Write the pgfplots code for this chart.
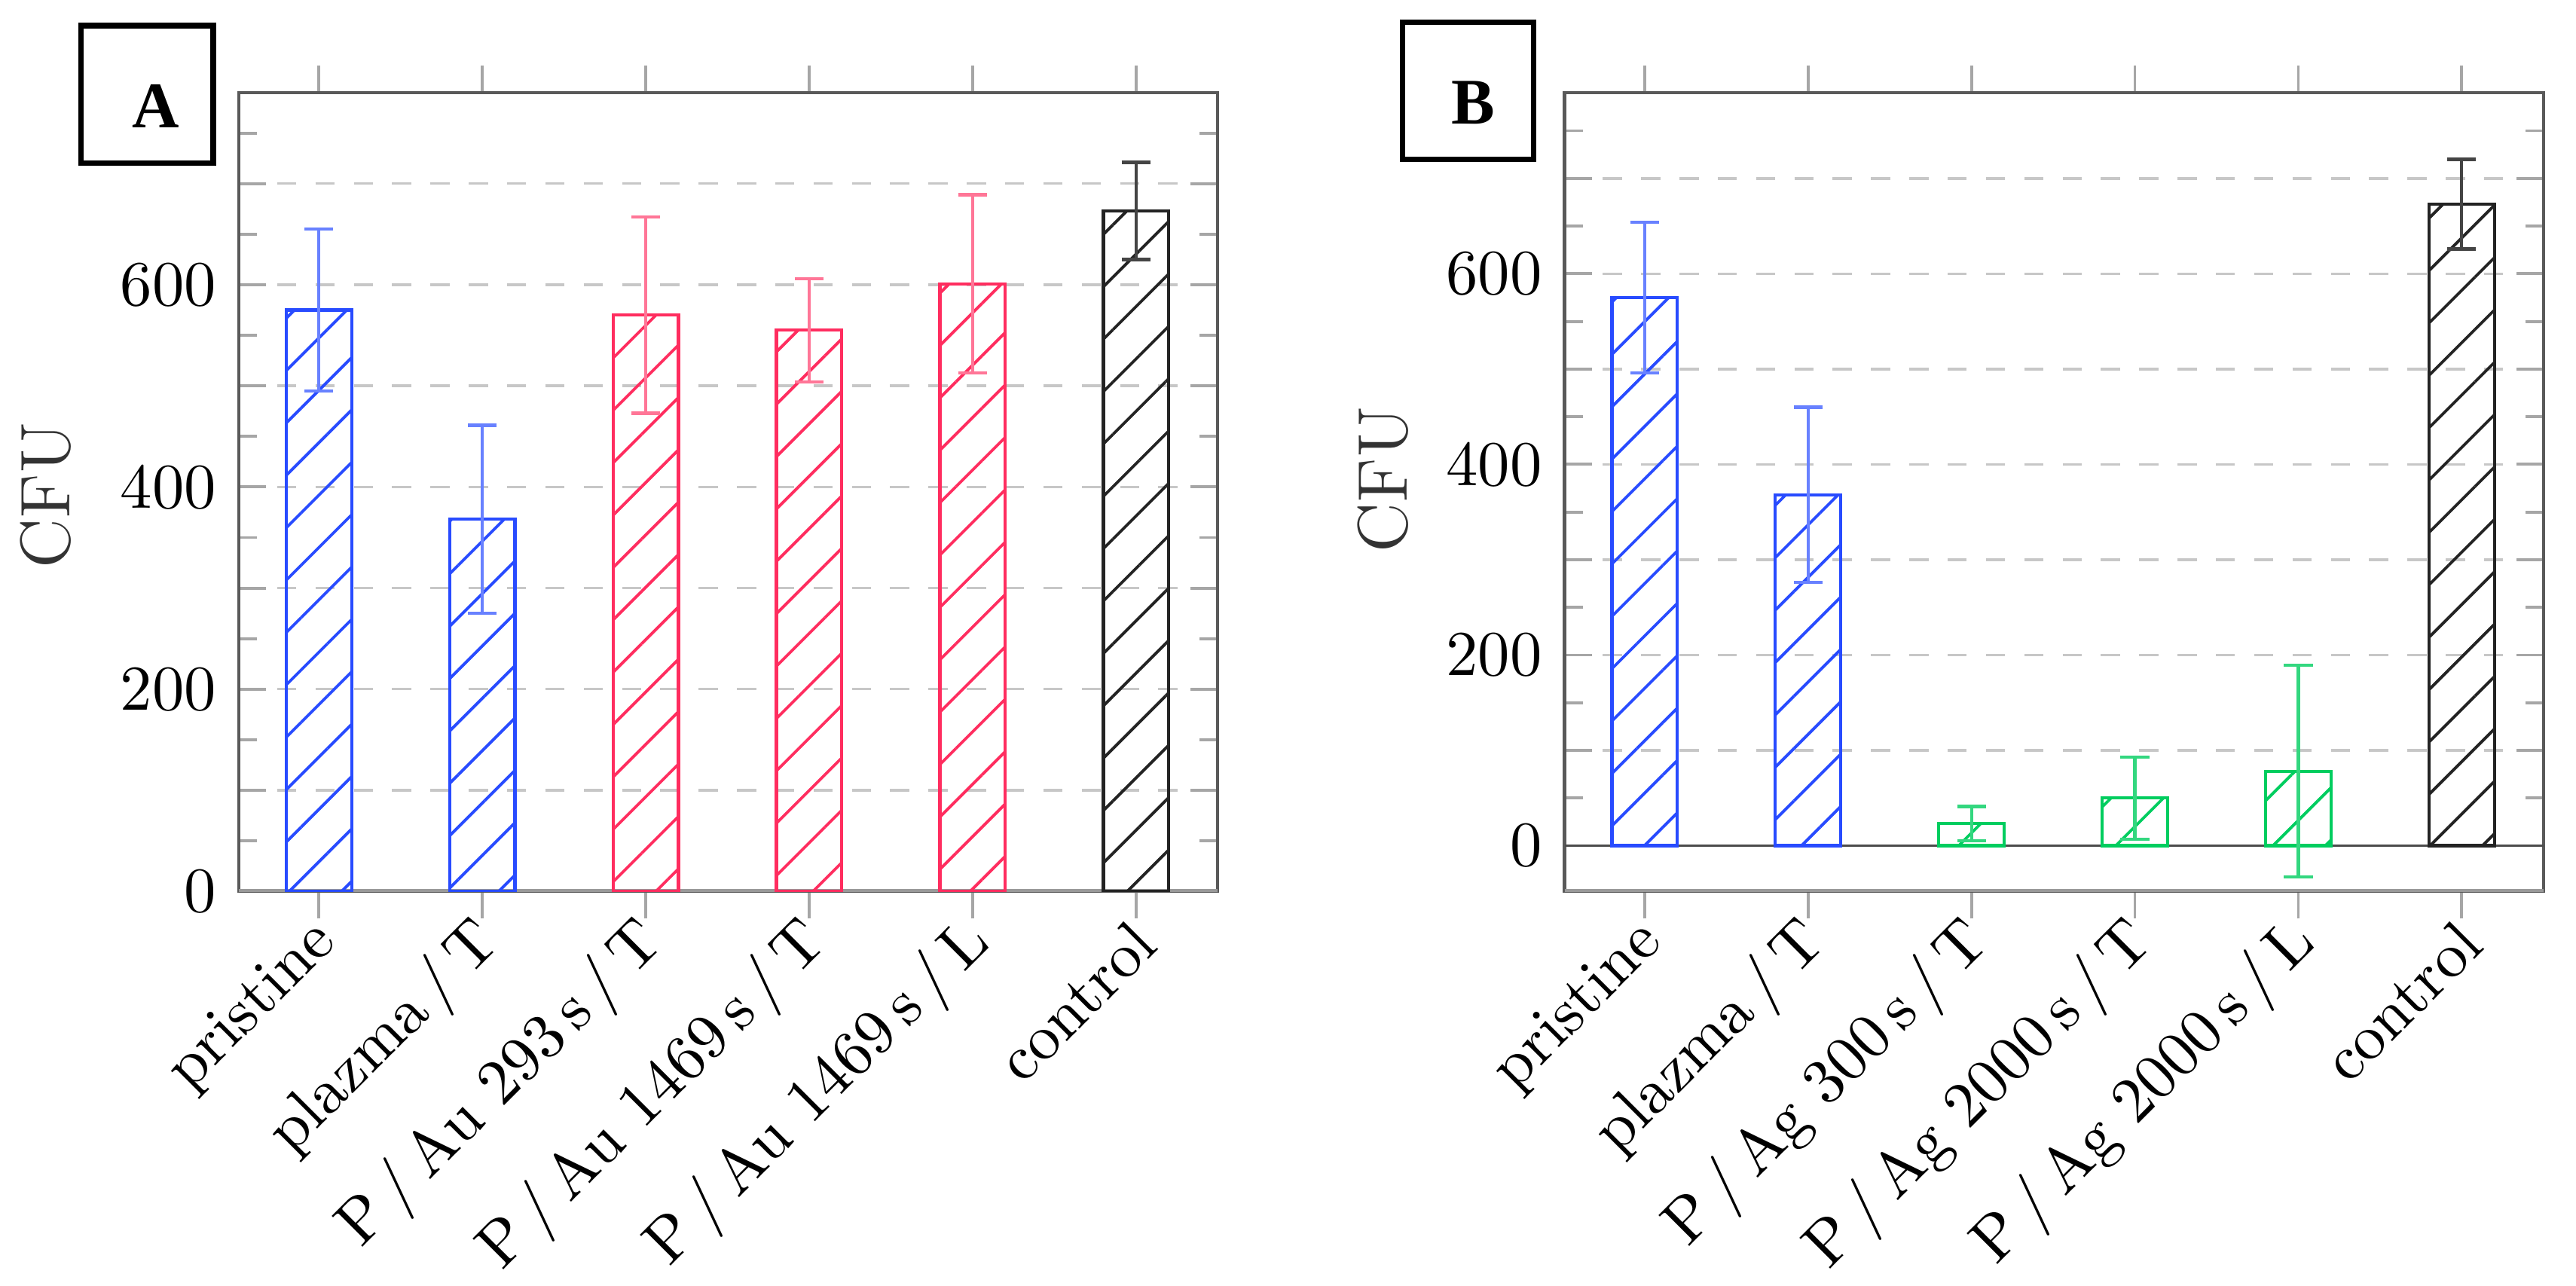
\documentclass[border=0pt]{standalone}
\usepackage{fontspec}
\usepackage{pgfplots}
\pgfplotsset{compat=1.18}
\usetikzlibrary{patterns.meta}
\newfontfamily\boxfont{Liberation Serif}

\definecolor{cblue}{RGB}{40,75,255}
\definecolor{cred}{RGB}{255,45,95}
\definecolor{cgreen}{RGB}{0,205,95}
\definecolor{cblack}{RGB}{35,35,35}

\pgfplotsset{
  cfu/.style={
    width=153.3pt, height=125.1pt, scale only axis,
    ymax=790,
    xmin=-0.49, xmax=5.5,
    xtick={0,...,5},
    ytick={0,100,...,700},
    yticklabels={0,,200,,400,,600,},
    minor ytick={50,150,...,750},
    ymajorgrids,
    major grid style={dashed, black!22, line width=0.4pt},
    tick style={black!35, line width=0.45pt},
    axis line style={black!65, line width=0.5pt},
    ylabel={CFU},
    ylabel style={font=\fontsize{11}{13}\selectfont, color=black!80, anchor=center},
    xticklabel style={xshift=3.8pt, yshift=0.2pt, rotate=45, anchor=east},
    ybar, bar width=0.4,
  },
  hbar/.style 2 args={
    draw=#1, pattern={Lines[angle=45,distance=5.8pt,line width=0.45pt]},
    pattern color=#1, line width=0.5pt, bar shift=0pt,
    error bars/.cd, y dir=both, y explicit, error mark=-,
    error bar style={color=#2, line width=0.5pt},
    error mark options={rotate=90, draw=#2, solid, mark size=2.25pt, line width=0.5pt},
  },
}

\begin{document}
\begin{tikzpicture}
\useasboundingbox (-37.4pt,-61.7pt) rectangle (366.0pt,139.6pt);

% panel labels
\draw[line width=0.85pt] (-24.7pt,114.1pt) rectangle (-4.0pt,135.6pt);
\node[font=\boxfont\bfseries\fontsize{10.2}{12}\selectfont, inner sep=0pt] at (-13.0pt,123.0pt) {A};
\draw[line width=0.85pt] (182.2pt,114.6pt) rectangle (202.8pt,136.1pt);
\node[font=\boxfont\bfseries\fontsize{10.2}{12}\selectfont, inner sep=0pt] at (193.3pt,123.5pt) {B};

% panel A: gold
\begin{axis}[cfu, at={(0pt,0pt)}, anchor=south west, ymin=0,
  ylabel style={at={(axis description cs:-0.197,0.496)}},
  xticklabels={pristine, plazma\,/\,T, P\,/\,Au 293\,s\,/\,T,
    P\,/\,Au 1469\,s\,/\,T, P\,/\,Au 1469\,s\,/\,L, control}]
\draw[black!40, line width=0.7pt] (rel axis cs:0,0) -- (rel axis cs:1,0);
\addplot[hbar={cblue}{cblue!70}] coordinates {(0,575) +- (0,80)};
\addplot[hbar={cblue}{cblue!70}] coordinates {(1,368) +- (0,93)};
\addplot[hbar={cred}{cred!65}] coordinates {(2,570) +- (0,97)};
\addplot[hbar={cred}{cred!65}] coordinates {(3,555) +- (0,51)};
\addplot[hbar={cred}{cred!65}] coordinates {(4,601) +- (0,88)};
\addplot[hbar={cblack}{cblack!85}] coordinates {(5,673) +- (0,48)};
\end{axis}

% panel B: silver
\begin{axis}[cfu, at={(207.6pt,0pt)}, anchor=south west, ymin=-48,
  ylabel style={at={(axis description cs:-0.185,0.516)}},
  xticklabels={pristine, plazma\,/\,T, P\,/\,Ag 300\,s\,/\,T,
    P\,/\,Ag 2000\,s\,/\,T, P\,/\,Ag 2000\,s\,/\,L, control}]
\draw[black!40, line width=0.7pt] (rel axis cs:0,0) -- (rel axis cs:1,0);
\draw[black!70, line width=0.45pt] (axis cs:-0.49,0) -- (axis cs:5.5,0);
\addplot[hbar={cblue}{cblue!70}] coordinates {(0,575) +- (0,79)};
\addplot[hbar={cblue}{cblue!70}] coordinates {(1,368) +- (0,92)};
\addplot[hbar={cgreen}{cgreen!80}] coordinates {(2,23) +- (0,18)};
\addplot[hbar={cgreen}{cgreen!80}] coordinates {(3,50) +- (0,43)};
\addplot[hbar={cgreen}{cgreen!80}] coordinates {(4,78) +- (0,111)};
\addplot[hbar={cblack}{cblack!85}] coordinates {(5,673) +- (0,47)};
\end{axis}
\end{tikzpicture}
\end{document}
